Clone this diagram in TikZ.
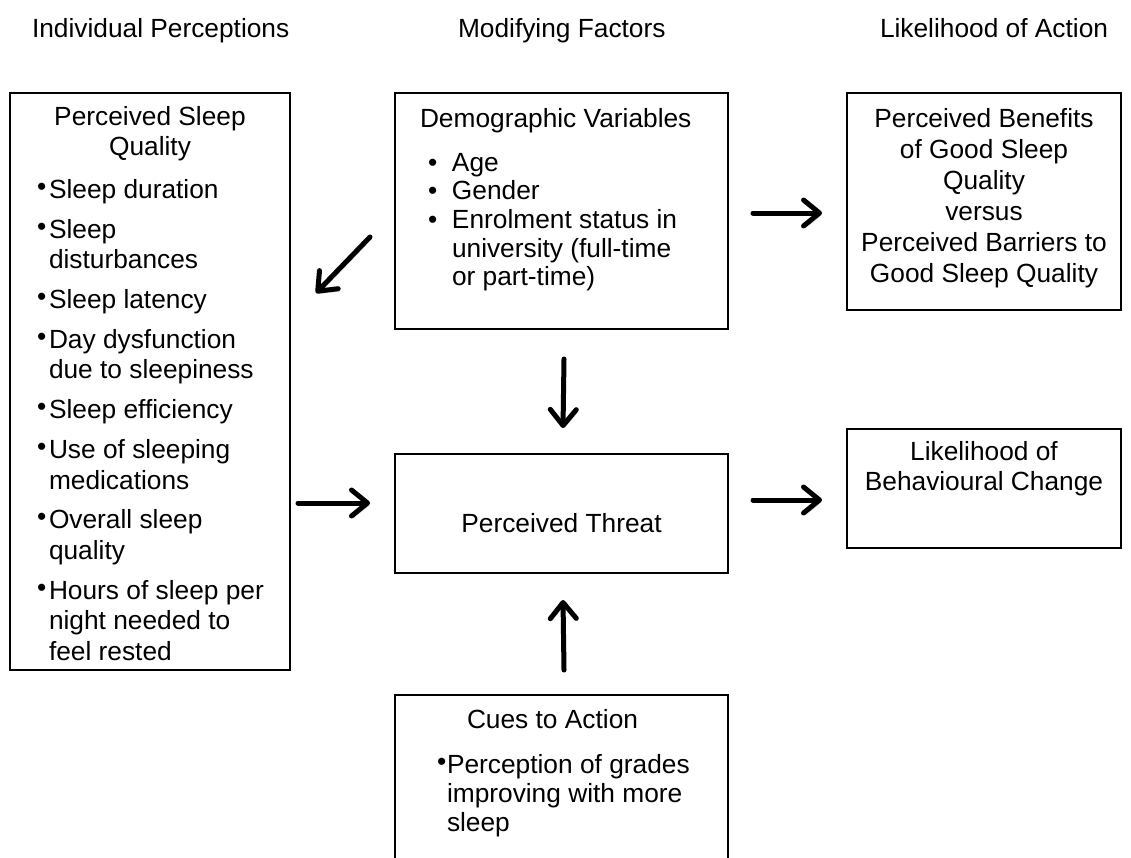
\documentclass[tikz,border=0pt]{standalone}
\usepackage{fontspec}
\setmainfont{Liberation Sans}
\usetikzlibrary{arrows.meta}
\newcommand\fs{\fontsize{26.3pt}{30.5pt}\selectfont}
\newcommand\lbul{\makebox[12pt][l]{\raisebox{3pt}{\textbullet}}}
\newcommand\litem[1]{\par\vspace{9.3pt}\hangindent=12pt\hangafter=1\noindent\lbul#1}
\newcommand\ditem[1]{\par\hangindent=24pt\hangafter=1\noindent\makebox[24pt][l]{\textbullet}#1}
\begin{document}
\begin{tikzpicture}[x=1pt,y=-1pt,
  box/.style={draw=black, line width=1.6pt, inner sep=0pt, outer sep=0pt, rectangle},
  txt/.style={inner sep=0pt, outer sep=0pt, anchor=base west, font=\fs},
  arr/.style={line width=5pt, line cap=round, line join=round,
    -{Straight Barb[length=16pt,width=26pt,round]},
    preaction={draw=black!18, transform canvas={xshift=1.5pt,yshift=-2.5pt}}}
]
\clip (0,0) rectangle (1131,857);
\fill[white] (0,0) rectangle (1131,857);

% headers
\node[txt] (h1) at (32,37) {Individual Perceptions};
\node[txt] (h2) at (458,37) {Modifying Factors};
\node[txt] (h3) at (880,37) {Likelihood of Action};

% boxes
\node[box, minimum width=280pt, minimum height=577pt] (L) at (150,381.5) {};
\node[box, minimum width=333pt, minimum height=236pt] (D) at (561.5,211) {};
\node[box, minimum width=274pt, minimum height=217pt] (B) at (984,201.5) {};
\node[box, minimum width=333pt, minimum height=119pt] (T) at (561.5,513.5) {};
\node[box, minimum width=274pt, minimum height=119pt] (C) at (984,488.5) {};
\node[box, minimum width=333pt, minimum height=175pt] (Q) at (561.5,782.5) {};

% texts
\node[txt] (Lt) at (10,125) {\parbox[t]{280pt}{\fs\centering Perceived Sleep\\Quality\par
  \vspace{3.2pt}\raggedright\leftskip=27pt
  \litem{Sleep duration}
  \litem{Sleep\newline disturbances}
  \litem{Sleep latency}
  \litem{Day dysfunction\newline due to sleepiness}
  \litem{Sleep efficiency}
  \litem{Use of sleeping\newline medications}
  \litem{Overall sleep\newline quality}
  \litem{Hours of sleep per\newline night needed to\newline feel rested}}};

\node[txt] (Dt) at (420,127) {\parbox[t]{300pt}{\fontsize{26.3pt}{28.7pt}\selectfont\raggedright
  Demographic Variables\par\vspace{15.3pt}\leftskip=8pt
  \ditem{Age}
  \ditem{Gender}
  \ditem{Enrolment status in\newline university (full-time\newline or part-time)}}};

\node[txt, anchor=base] (Bt) at (984,127) {\parbox[t]{270pt}{\fontsize{26.3pt}{31pt}\selectfont\centering
  Perceived Benefits\\of Good Sleep\\Quality\\versus\\Perceived Barriers to\\Good Sleep Quality}};

\node[txt, anchor=base] (Tt) at (561.5,532) {Perceived Threat};

\node[txt, anchor=base] (Ct) at (984,460) {\parbox[t]{270pt}{\fontsize{26.3pt}{30pt}\selectfont\centering
  Likelihood of\\Behavioural Change}};

\node[txt] (Qh) at (467,728) {Cues to Action};
\node[txt] (Qt) at (437,773) {\parbox[t]{290pt}{\fontsize{26.3pt}{29pt}\selectfont\raggedright
  \hangindent=10pt\hangafter=1\noindent\makebox[10pt][l]{\raisebox{3pt}{\textbullet}}Perception of grades\newline improving with more\newline sleep}};

% arrows
\coordinate (a1s) at (370,237); \coordinate (a1e) at (316,293);
\coordinate (a2s) at (564,359); \coordinate (a2e) at (563,428);
\coordinate (a3s) at (298,503); \coordinate (a3e) at (370,503);
\coordinate (a4s) at (753,500); \coordinate (a4e) at (822,500);
\coordinate (a5s) at (753,213); \coordinate (a5e) at (822,213);
\coordinate (a6s) at (564,670); \coordinate (a6e) at (563,600);
\draw[arr] (a1s) -- (a1e);
\draw[arr] (a2s) -- (a2e);
\draw[arr] (a3s) -- (a3e);
\draw[arr] (a4s) -- (a4e);
\draw[arr] (a5s) -- (a5e);
\draw[arr] (a6s) -- (a6e);
\end{tikzpicture}
\end{document}
